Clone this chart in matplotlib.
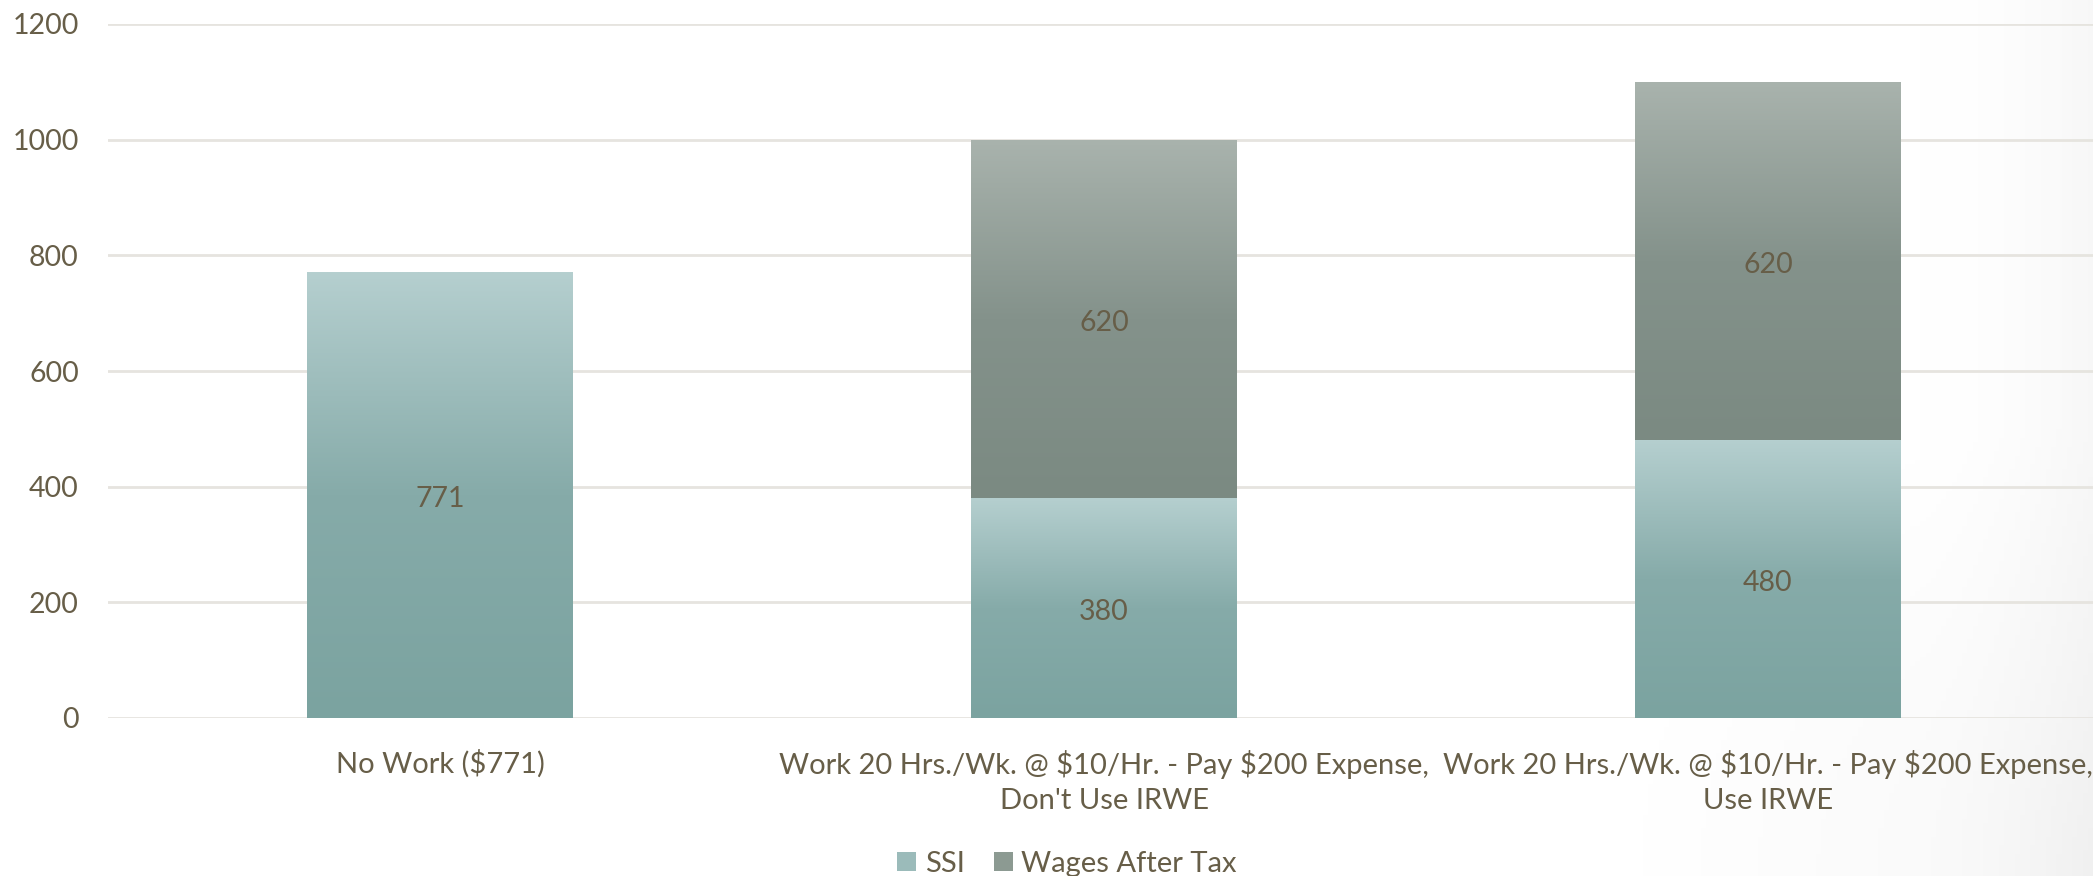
import numpy as np
import matplotlib
matplotlib.use("Agg")
import matplotlib.pyplot as plt
import matplotlib.transforms as mtransforms
from matplotlib.colors import LinearSegmentedColormap
from matplotlib.patches import Patch

categories = ["No Work ($771)",
              "Work 20 Hrs./Wk. @ $10/Hr. - Pay $200 Expense,\nDon't Use IRWE",
              "Work 20 Hrs./Wk. @ $10/Hr. - Pay $200 Expense,\nUse IRWE"]
ssi = [771, 380, 480]
wages = [0, 620, 620]
series_names = ["SSI", "Wages After Tax"]
yticks = [0, 200, 400, 600, 800, 1000, 1200]

TEXT = "#675E48"
GRID = "#E6E4DF"
FONT = "Lato"
plt.rcParams['font.family'] = [FONT, 'DejaVu Sans']

W, H = 2093, 876
fig = plt.figure(figsize=(W / 100, H / 100), dpi=100)

# subtle background shading toward bottom-right corner
bg = fig.add_axes([0, 0, 1, 1], zorder=-10)
xx, yy = np.meshgrid(np.linspace(0, W, 400), np.linspace(0, H, 200))
d = np.hypot(W - xx, H - yy)
shade = 0.028 * np.clip((xx - 1920) / 173, 0, 1) ** 1.8 + 0.03 * np.clip(1 - d / 450, 0, 1)
img = np.dstack([1 - shade] * 3)
bg.imshow(img, extent=[0, W, H, 0], aspect='auto')
bg.set_xlim(0, W); bg.set_ylim(H, 0)
bg.axis('off')

ax = fig.add_axes([108 / W, 1 - 718 / H, (2100 - 108) / W, (718 - 24) / H])
ax.patch.set_alpha(0)

x = np.arange(len(categories))
width = 0.4
b1 = ax.bar(x, ssi, width, color="#9BBBBA", zorder=2, label=series_names[0])
b2 = ax.bar(x, wages, width, bottom=ssi, color="#939F98", zorder=2, label=series_names[1])

cm_ssi = LinearSegmentedColormap.from_list("ssi", ["#7BA3A0", "#86ABA9", "#B5CFCF"])
cm_wag = LinearSegmentedColormap.from_list("wag", ["#7B8A82", "#84928B", "#A9B3AD"])
grad = np.linspace(0, 1, 256).reshape(-1, 1)
label_shift = ax.transData + mtransforms.ScaledTranslation(0, -3 / 72, fig.dpi_scale_trans)

for bars, cm, vals in [(b1, cm_ssi, ssi), (b2, cm_wag, wages)]:
    for p, v in zip(bars.patches, vals):
        if v <= 0:
            continue
        x0, y0, w, h = p.get_x(), p.get_y(), p.get_width(), p.get_height()
        im = ax.imshow(grad, extent=[x0, x0 + w, y0, y0 + h], origin='lower',
                       aspect='auto', cmap=cm, zorder=3)
        im.set_clip_path(p)
        p.set_facecolor('none')
        ax.text(x0 + w / 2, y0 + h / 2, f"{v}", ha='center', va='center',
                color=TEXT, fontsize=20.5, zorder=4, transform=label_shift)

ax.set_xlim(-0.5, 2.5)
ax.set_ylim(0, 1200)
ax.set_yticks(yticks)
ax.set_yticklabels([str(t) for t in yticks], fontsize=20.5, color=TEXT)
ax.set_xticks(x)
ax.set_xticklabels([c.replace('$', r'\$') for c in categories], fontsize=21,
                   color=TEXT, linespacing=1.42)
ax.tick_params(axis='both', length=0)
ax.tick_params(axis='y', pad=21)
ax.tick_params(axis='x', pad=23)
ax.grid(axis='y', color=GRID, linewidth=2, zorder=0)
ax.set_axisbelow(True)
for s in ax.spines.values():
    s.set_visible(False)

handles = [Patch(facecolor="#9BBBBA"), Patch(facecolor="#8C9A92")]
fig.legend(handles, series_names, loc='center', bbox_to_anchor=(1067 / W, 1 - 864 / H),
           ncol=2, frameon=False, fontsize=21, labelcolor=TEXT,
           handlelength=0.65, handleheight=0.65, handletextpad=0.3, columnspacing=1.0)

fig.savefig("out.png", dpi=100)
